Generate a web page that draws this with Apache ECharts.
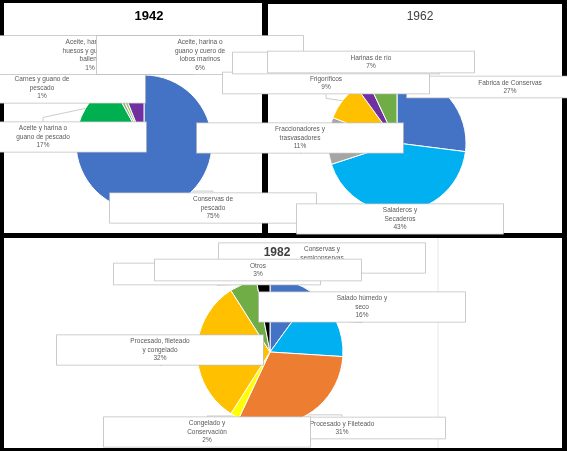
<!DOCTYPE html>
<html><head><meta charset="utf-8">
<script src="https://cdn.jsdelivr.net/npm/echarts@6/dist/echarts.min.js"></script>
<style>html,body{margin:0;padding:0;background:#000}#c{width:567px;height:451px}</style>
</head><body><div id="c"></div>
<script>
const cats1942 = ['Conservas de\npescado', 'Aceite y harina o\nguano de pescado', 'Carnes y guano de\npescado', 'Aceite, harina de\nhuesos y guano de\nballena', 'Aceite, harina o\nguano y cuero de\nlobos marinos'];
const vals1942 = [75, 17, 1, 1, 6];
const cats1962 = ['Fabrica de Conservas', 'Saladeros y\nSecaderos', 'Fraccionadores y\ntrasvasadores', 'Frigoríficos', 'Harinas de...', 'Harinas de río'];
const vals1962 = [27, 43, 11, 9, 3, 7];
const cats1982 = ['Conservas y\nsemiconservas', 'Salado húmedo y\nseco', 'Procesado y Fileteado', 'Congelado y\nConservación', 'Procesado, fileteado\ny congelado', 'Harina y aceite', 'Otros'];
const vals1982 = [10, 16, 31, 2, 32, 6, 3];

const col1942 = ['#4472C4', '#00B050', '#A5A5A5', '#92D050', '#7030A0'];
const col1962 = ['#4472C4', '#00B0F0', '#A5A5A5', '#FFC000', '#7030A0', '#70AD47'];
const col1982 = ['#4472C4', '#00B0F0', '#ED7D31', '#FFFF00', '#FFC000', '#70AD47', '#000000'];

const pos1942 = [[213,208],[43,137],[42,88],[90,55],[200,55]];
const pos1962 = [[510,87],[400,219],[300,138],[326,83],[336,63],[371,62]];
const pos1982 = [[322,258],[362,307],[342,428],[207,432],[160,350],[217,274],[258,270]];

function mk(cats, vals, cols, center, r, pos) {
  return {
    type: 'pie', center: center, radius: r, startAngle: 90, clockwise: true,
    data: cats.map((n, i) => ({name: n, value: vals[i], itemStyle: {color: cols[i]}})),
    itemStyle: {borderColor: '#fff', borderWidth: 1},
    label: {
      formatter: p => p.name + '\n' + p.value + '%',
      fontSize: 6.5, color: '#595959', fontFamily: 'Liberation Sans', lineHeight: 8.5,
      backgroundColor: '#fff', borderColor: '#BFBFBF', borderWidth: 0.8, padding: [2, 3], align: 'center',
      overflow: 'none', width: 200, edgeDistance: 0, bleedMargin: 0
    },
    labelLine: {show: true, length: 4, length2: 4, lineStyle: {color: '#BFBFBF', width: 0.8}},
    labelLayout: p => ({x: pos[p.dataIndex][0], y: pos[p.dataIndex][1], align: 'center', verticalAlign: 'middle'}),
    emphasis: {disabled: true}, animation: false
  };
}

const chart = echarts.init(document.getElementById('c'));
chart.setOption({
  backgroundColor: '#000',
  animation: false,
  graphic: [
    {type: 'rect', shape: {x: 4, y: 3, width: 258, height: 230}, style: {fill: '#fff'}, z: -10},
    {type: 'rect', shape: {x: 268, y: 4, width: 294, height: 229}, style: {fill: '#fff'}, z: -10},
    {type: 'rect', shape: {x: 4, y: 238, width: 558, height: 210}, style: {fill: '#fff'}, z: -10},
    {type: 'line', shape: {x1: 438, y1: 238, x2: 438, y2: 448}, style: {stroke: '#E6E6E6', lineWidth: 1}, z: -9}
  ],
  title: [
    {text: '1942', left: 144, top: 5, textAlign: 'center', textStyle: {fontSize: 13, fontWeight: 'bold', color: '#000', fontFamily: 'Liberation Sans'}},
    {text: '1962', left: 415, top: 6, textAlign: 'center', textStyle: {fontSize: 12, fontWeight: 'normal', color: '#404040', fontFamily: 'Liberation Sans'}},
    {text: '1982', left: 272, top: 242, textAlign: 'center', textStyle: {fontSize: 12, fontWeight: 'bold', color: '#404040', fontFamily: 'Liberation Sans'}}
  ],
  series: [
    mk(cats1942, vals1942, col1942, [144, 143], 68, pos1942),
    mk(cats1962, vals1962, col1962, [397, 143], 69, pos1962),
    mk(cats1982, vals1982, col1982, [270, 352], 73, pos1982)
  ]
});
</script></body></html>
